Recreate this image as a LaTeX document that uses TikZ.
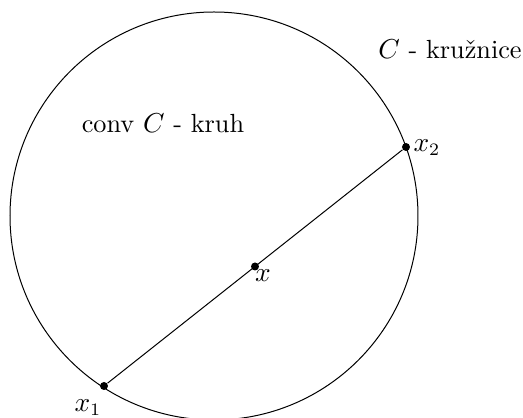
\documentclass[tikz,border=0pt]{standalone}
\begin{document}
\begin{tikzpicture}[x=0.4pt,y=-0.4pt,line width=0.4pt,
  dot/.style={circle,fill=black,inner sep=0pt,minimum size=3.2pt},
  lbl/.style={inner sep=0pt,font=\fontsize{10.5}{12}\selectfont}]
\clip (0,0) rectangle (523,418);
\coordinate (c) at (214,216);
\draw (c) circle (204);
\node[dot] (x1) at (104,386) {};
\node[dot] (x2) at (406,147) {};
\node[dot] (x) at (255,266.5) {};
\draw (x1) -- (x2);
\node[lbl] (lx1) at (88,408) {$x_1$};
\node[lbl] (lx2) at (427,148) {$x_2$};
\node[lbl] (lx) at (263,276) {$x$};
\node[lbl,anchor=base] (conv) at (163,133) {conv $C$ - kruh};
\node[lbl,anchor=base] (kruz) at (450,59) {$C$ - kružnice};
\end{tikzpicture}
\end{document}
